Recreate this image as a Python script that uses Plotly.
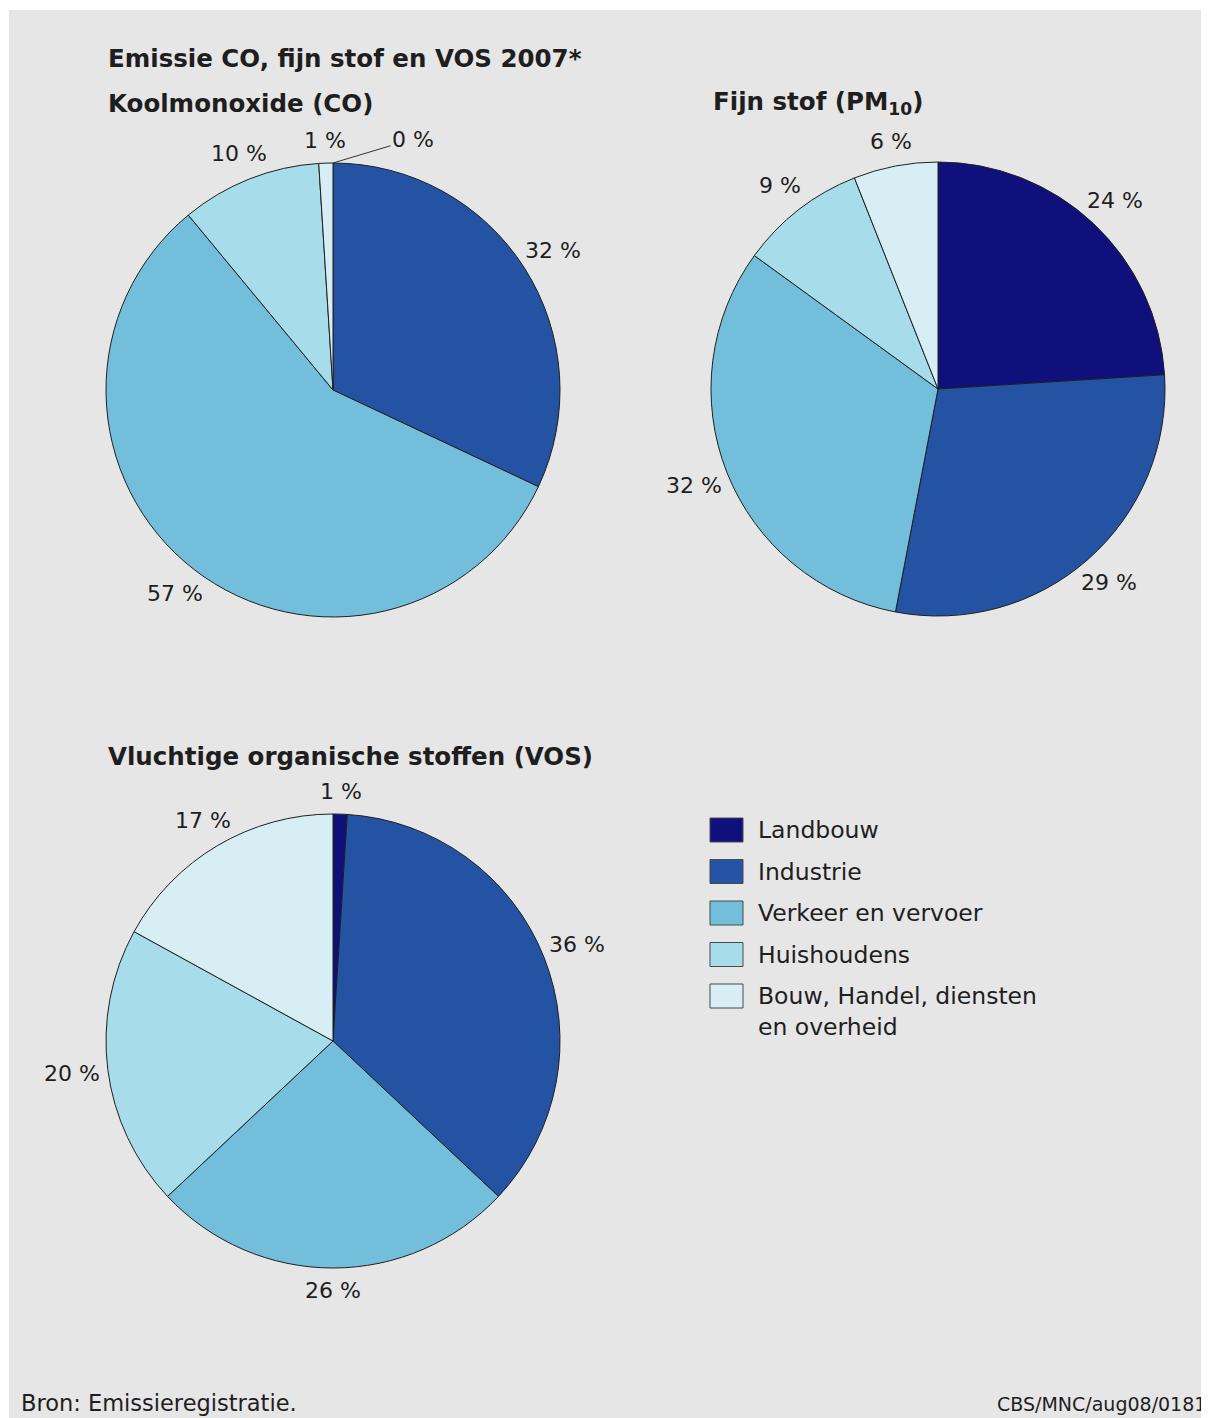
import math
import plotly.graph_objects as go

# ---------------- data ----------------
categories = ["Landbouw", "Industrie", "Verkeer en vervoer", "Huishoudens",
              "Bouw, Handel, diensten en overheid"]
legend_labels = ["Landbouw", "Industrie", "Verkeer en vervoer", "Huishoudens",
                 "Bouw, Handel, diensten<br>en overheid"]
colors = ["#10107c", "#2353a2", "#73bedb", "#a7dcea", "#d7eef5"]

co_values = [0, 32, 57, 10, 1]
pm10_values = [24, 29, 32, 9, 6]
vos_values = [1, 36, 26, 20, 17]

main_title = "Emissie CO, fijn stof en VOS 2007*"
co_title = "Koolmonoxide (CO)"
pm10_title = "Fijn stof (PM<sub>10</sub>)"
vos_title = "Vluchtige organische stoffen (VOS)"
source_text = "Bron: Emissieregistratie."
code_text = "CBS/MNC/aug08/0181"

# ---------------- layout constants ----------------
PAGE_OFF = 8            # browser body margin
W, H = 1209 - PAGE_OFF, 1418 - PAGE_OFF
R = 227
FONT = "DejaVu Sans"
TXT = "#1e1e1e"
BG = "#e6e6e6"

pies = [
    (co_values, 333, 390),
    (pm10_values, 938, 389),
    (vos_values, 333, 1041),
]


def px(x, y):
    """page pixel -> paper fraction"""
    return (x - PAGE_OFF) / W, 1 - (y - PAGE_OFF) / H


fig = go.Figure()
annotations = []
shapes = []

# gray panel
gx0, gy1 = px(9, 10)
shapes.append(dict(type="rect", xref="paper", yref="paper",
                   x0=gx0, x1=1, y0=0, y1=gy1,
                   fillcolor=BG, line=dict(width=0), layer="below"))

for vals, cx, cy in pies:
    x0, y1 = px(cx - R, cy - R)
    x1, y0 = px(cx + R, cy + R)
    fig.add_trace(go.Pie(
        labels=categories, values=vals, sort=False, direction="clockwise",
        rotation=0, textinfo="none", hoverinfo="label+value",
        marker=dict(colors=colors, line=dict(color="#1f1f1f", width=1)),
        domain=dict(x=[x0, x1], y=[y0, y1]), showlegend=False,
    ))
    total = sum(vals)
    cum = 0
    for v in vals:
        start = cum / total * 2 * math.pi
        mid = (cum + v / 2) / total * 2 * math.pi
        cum += v
        if v == 0:
            tx, ty = px(cx + R * math.sin(start), cy - R * math.cos(start))
            annotations.append(dict(
                x=tx, y=ty, xref="paper", yref="paper", text=f"{v} %",
                showarrow=True, arrowhead=0, arrowwidth=1, arrowcolor="#333",
                ax=80, ay=-24, font=dict(family=FONT, size=22, color=TXT)))
            continue
        s, c = math.sin(mid), math.cos(mid)
        d = R + 22 + 14 * abs(s)
        lx, ly = px(cx + d * s, cy - d * c)
        annotations.append(dict(
            x=lx, y=ly, xref="paper", yref="paper", text=f"{v} %",
            showarrow=False, xanchor="center", yanchor="middle",
            font=dict(family=FONT, size=22, color=TXT)))

# titles
for text, x, y in [(main_title, 106, 58), (co_title, 106, 103),
                   (pm10_title, 711, 103), (vos_title, 106, 756)]:
    ax_, ay_ = px(x, y)
    annotations.append(dict(x=ax_, y=ay_, xref="paper", yref="paper", text=f"<b>{text}</b>",
                            showarrow=False, xanchor="left", yanchor="middle",
                            font=dict(family=FONT, size=24.5, color=TXT)))

# custom legend
leg_y0, leg_dy = 830, 41.5
for i, (lab, col) in enumerate(zip(legend_labels, colors)):
    yc = leg_y0 + i * leg_dy
    sx0, sy1 = px(710, yc - 12)
    sx1, sy0 = px(743, yc + 12)
    shapes.append(dict(type="rect", xref="paper", yref="paper",
                       x0=sx0, x1=sx1, y0=sy0, y1=sy1,
                       fillcolor=col, line=dict(color="#4a4a4a", width=1)))
    if "<br>" in lab:
        tx, ty = px(756, yc - 16)
        annotations.append(dict(x=tx, y=ty, xref="paper", yref="paper", text=lab,
                                showarrow=False, xanchor="left", yanchor="top", align="left",
                                font=dict(family=FONT, size=23.5, color=TXT)))
    else:
        tx, ty = px(756, yc)
        annotations.append(dict(x=tx, y=ty, xref="paper", yref="paper", text=lab,
                                showarrow=False, xanchor="left", yanchor="middle",
                                font=dict(family=FONT, size=23.5, color=TXT)))

# footer
fx, fy = px(19, 1403)
annotations.append(dict(x=fx, y=fy, xref="paper", yref="paper", text=source_text,
                        showarrow=False, xanchor="left", yanchor="middle",
                        font=dict(family=FONT, size=22.5, color=TXT)))
cx_, cy_ = px(995, 1404)
annotations.append(dict(x=cx_, y=cy_, xref="paper", yref="paper", text=code_text,
                        showarrow=False, xanchor="left", yanchor="middle",
                        font=dict(family=FONT, size=19, color=TXT)))

fig.update_layout(
    width=W, height=H, margin=dict(l=0, r=0, t=0, b=0),
    paper_bgcolor="white", plot_bgcolor="white",
    annotations=annotations, shapes=shapes, showlegend=False,
)

fig.write_html("out.html")
